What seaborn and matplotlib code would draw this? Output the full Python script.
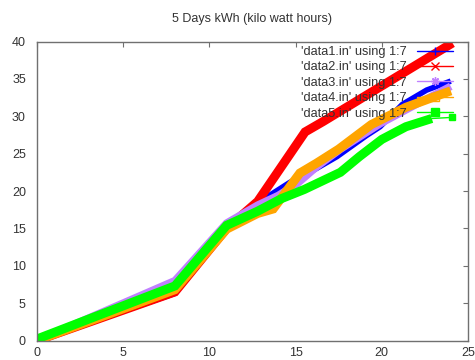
import matplotlib
matplotlib.use("Agg")
import matplotlib.pyplot as plt
import seaborn as sns
import pandas as pd
from matplotlib.lines import Line2D

# ---- data ----
labels = ["'data1.in' using 1:7", "'data2.in' using 1:7", "'data3.in' using 1:7",
          "'data4.in' using 1:7", "'data5.in' using 1:7"]
colors = ["#0000ff", "#ff0000", "#c080ff", "#ffa500", "#00ff00"]

x1 = [0, 8.0, 11.0, 12.8, 14.7, 15.9, 17.4, 19.1, 19.9, 21.2, 22.6, 24.0]
y1 = [0, 6.3, 14.8, 18.4, 21.2, 22.6, 24.6, 27.4, 28.6, 31.6, 33.5, 34.7]

x2 = [0, 8.0, 11.0, 12.8, 15.55, 16.6, 24.1]
y2 = [0, 6.5, 15.0, 18.6, 27.9, 29.3, 39.8]

x3 = [0, 8.0, 11.0, 12.8, 14.0, 15.1, 16.2, 17.6, 19.9, 22.0, 24.0]
y3 = [0, 8.0, 15.7, 18.1, 19.4, 21.0, 23.2, 25.6, 29.0, 31.6, 34.0]

x4 = [0, 8.0, 11.0, 12.8, 13.7, 15.25, 16.2, 17.5, 19.4, 21.4, 24.0]
y4 = [0, 6.8, 14.9, 17.0, 17.6, 22.4, 23.7, 25.6, 28.9, 31.2, 33.4]

x5 = [0, 8.0, 11.0, 12.8, 14.2, 15.5, 17.6, 18.7, 20.0, 21.4, 22.9, 24.1]
y5 = [0.2, 7.3, 15.4, 17.3, 19.0, 20.2, 22.5, 24.6, 26.9, 28.6, 29.7, 29.85]

xticks = [0, 5, 10, 15, 20, 25]
yticks = [0, 5, 10, 15, 20, 25, 30, 35, 40]
title = "5 Days kWh (kilo watt hours)"

series = [(x1, y1), (x2, y2), (x3, y3), (x4, y4), (x5, y5)]
band_widths = [4.0, 6.5, 5.5, 6.5, 6.5]
markers = ["+", "x", (8, 2, 0), "s", "s"]
mfill = ["full", "full", "full", "none", "full"]

# ---- style ----
sns.set_theme(style="white")
plt.rcParams["font.family"] = ["Liberation Sans", "DejaVu Sans"]
plt.rcParams["font.size"] = 9

fig = plt.figure(figsize=(4.75, 3.6), dpi=100)
ax = fig.add_axes([37 / 475, 1 - 340.5 / 360, (468 - 37) / 475, (340.5 - 41.5) / 360])

for i, ((xs, ys), lw, col) in enumerate(zip(series, band_widths, colors)):
    df = pd.DataFrame({"x": xs, "y": ys})
    if i == 4:
        dense = df.iloc[:-1]
        tail = df.iloc[-2:]
        sns.lineplot(data=dense, x="x", y="y", ax=ax, color=col, linewidth=lw,
                     sort=False, estimator=None, legend=False,
                     solid_capstyle="butt", solid_joinstyle="miter")
        sns.lineplot(data=tail, x="x", y="y", ax=ax, color=col, linewidth=1.0,
                     sort=False, estimator=None, legend=False)
        ax.plot(tail["x"].iloc[-1:], tail["y"].iloc[-1:], marker="s", color=col,
                markersize=5, linestyle="none")
    else:
        sns.lineplot(data=df, x="x", y="y", ax=ax, color=col, linewidth=lw,
                     sort=False, estimator=None, legend=False,
                     solid_capstyle="butt", solid_joinstyle="miter")

ax.set_xlim(0, 25)
ax.set_ylim(0, 40)
ax.set_xticks(xticks)
ax.set_yticks(yticks)
ax.set_xlabel("")
ax.set_ylabel("")

axis_col = "#707070"
for s in ax.spines.values():
    s.set_color(axis_col)
    s.set_linewidth(1.0)
ax.tick_params(direction="in", length=3.5, width=0.8, color=axis_col,
               top=True, right=True, labelcolor="#333333", labelsize=9)
ax.tick_params(axis="y", pad=8)
ax.tick_params(axis="x", pad=5)
ax.set_title(title, fontsize=9, color="#333333", pad=14)

handles = []
for col, mk, fs in zip(colors, markers, mfill):
    handles.append(Line2D([0], [0], color=col, linewidth=1.0, marker=mk,
                          markersize=6, fillstyle=fs, markeredgewidth=1.0))
leg = ax.legend(handles, labels, loc="upper right", bbox_to_anchor=(453 / 475, 1 - 46 / 360),
                bbox_transform=fig.transFigure, frameon=False, markerfirst=False,
                handlelength=2.8, handletextpad=0.8, labelspacing=0.27,
                borderaxespad=0, borderpad=0, fontsize=9.2, numpoints=1)
for t in leg.get_texts():
    t.set_color("#333333")

fig.savefig("out.png", dpi=100)
